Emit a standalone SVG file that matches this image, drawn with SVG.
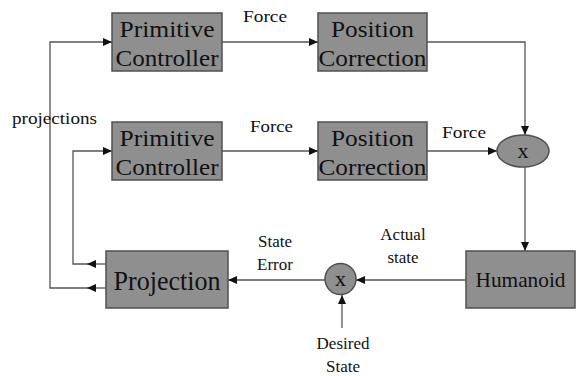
<svg xmlns="http://www.w3.org/2000/svg" width="577" height="376" viewBox="0 0 577 376" font-family="'Liberation Serif', 'Times New Roman', serif">
<defs>
<marker id="ah" markerWidth="10" markerHeight="8" refX="9" refY="4" orient="auto" markerUnits="userSpaceOnUse">
<path d="M0,0 L9,4 L0,8 z" fill="#111"/>
</marker>
<style>
.box{fill:#8f8f8f;stroke:#505050;stroke-width:1.5}
.ln{fill:none;stroke:#555;stroke-width:1.3}
</style>
</defs>
<rect width="577" height="376" fill="#fff"/>
<g id="connectors">
<path class="ln" d="M222,42 H318" marker-end="url(#ah)"/>
<path class="ln" d="M222,151 H318" marker-end="url(#ah)"/>
<path class="ln" d="M427,42 H525 V135" marker-end="url(#ah)"/>
<path class="ln" d="M427,151 H497" marker-end="url(#ah)"/>
<path class="ln" d="M525,167 V251" marker-end="url(#ah)"/>
<path class="ln" d="M466,280 H356" marker-end="url(#ah)"/>
<path class="ln" d="M342,328 V295" marker-end="url(#ah)"/>
<path class="ln" d="M325,280 H228" marker-end="url(#ah)"/>
<path class="ln" d="M106,264 H87" marker-end="url(#ah)"/>
<path class="ln" d="M106,288 H87" marker-end="url(#ah)"/>
<path class="ln" d="M88,264 H73 V151 H112" marker-end="url(#ah)"/>
<path class="ln" d="M88,288 H50 V42 H112" marker-end="url(#ah)"/>
</g>
<g fill="#111" font-size="24" text-anchor="middle">
<g id="pc1"><rect class="box" x="112" y="13" width="110" height="58"/>
<text x="167" y="37" textLength="95" lengthAdjust="spacingAndGlyphs">Primitive</text>
<text x="167" y="66" textLength="103" lengthAdjust="spacingAndGlyphs">Controller</text></g>
<g id="pos1"><rect class="box" x="318" y="13" width="109" height="58"/>
<text x="372.5" y="37" textLength="83" lengthAdjust="spacingAndGlyphs">Position</text>
<text x="372.5" y="66" textLength="108" lengthAdjust="spacingAndGlyphs">Correction</text></g>
<g id="pc2"><rect class="box" x="112" y="122" width="110" height="58"/>
<text x="167" y="146" textLength="95" lengthAdjust="spacingAndGlyphs">Primitive</text>
<text x="167" y="175" textLength="103" lengthAdjust="spacingAndGlyphs">Controller</text></g>
<g id="pos2"><rect class="box" x="318" y="122" width="109" height="58"/>
<text x="372.5" y="146" textLength="83" lengthAdjust="spacingAndGlyphs">Position</text>
<text x="372.5" y="175" textLength="108" lengthAdjust="spacingAndGlyphs">Correction</text></g>
<g id="mult1"><ellipse class="box" cx="523" cy="151" rx="26" ry="16"/>
<text x="523" y="158" font-size="22">x</text></g>
<g id="humanoid"><rect class="box" x="466" y="251" width="109" height="57"/>
<text x="520.5" y="287" font-size="21" textLength="90" lengthAdjust="spacingAndGlyphs">Humanoid</text></g>
<g id="mult2"><circle class="box" cx="340.5" cy="279" r="15.5"/>
<text x="340.5" y="286" font-size="22">x</text></g>
<g id="projection"><rect class="box" x="106" y="251" width="122" height="57"/>
<text x="167" y="290" font-size="27" textLength="107" lengthAdjust="spacingAndGlyphs">Projection</text></g>
</g>
<g id="labels" fill="#111" font-size="17">
<text x="243" y="22" textLength="44" lengthAdjust="spacingAndGlyphs">Force</text>
<text x="250" y="132" textLength="43" lengthAdjust="spacingAndGlyphs">Force</text>
<text x="442" y="138" textLength="44" lengthAdjust="spacingAndGlyphs">Force</text>
<text x="12" y="124" textLength="85" lengthAdjust="spacingAndGlyphs">projections</text>
<text x="275" y="247" text-anchor="middle">State</text>
<text x="275" y="270" text-anchor="middle">Error</text>
<text x="403" y="240" text-anchor="middle">Actual</text>
<text x="403" y="263" text-anchor="middle">state</text>
<text x="343" y="349" text-anchor="middle">Desired</text>
<text x="343" y="372" text-anchor="middle">State</text>
</g>
</svg>
